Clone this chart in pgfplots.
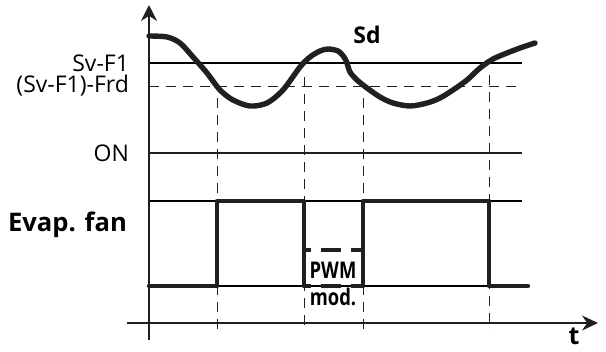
\documentclass[border=0pt]{standalone}
\usepackage{pgfplots}
\pgfplotsset{compat=1.18}
\usetikzlibrary{arrows.meta}
\usepackage{fontspec}
\setmainfont{Open Sans}
\definecolor{ink}{HTML}{231F20}
\definecolor{thin}{HTML}{8A8A8A}

\begin{document}
\begin{tikzpicture}
    \begin{axis}[
            hide axis,
            scale only axis,
            width=303pt,
            height=173.5pt,
            xmin=0, xmax=606,
            ymin=0, ymax=347,
            clip=false,
            every node/.append style={inner sep=0pt, text=ink},
        ]
        % frame of the picture (pixel units)
        \addplot[draw=none] coordinates {(0,0) (606,347)};

        % reference levels
        \addplot[thin, line width=0.55pt] coordinates {(149,284) (522,284)};
        \addplot[ink, line width=0.5pt, dash pattern=on 5pt off 3.5pt] coordinates {(149,261) (522,261)};
        \addplot[ink, line width=0.6pt] coordinates {(149,194) (522,194)};
        \addplot[thin, line width=0.55pt] coordinates {(149,146) (522,146)};
        \addplot[thin, line width=0.55pt] coordinates {(149,61) (522,61)};

        % switching instants
        \addplot[ink, line width=0.5pt, dash pattern=on 5pt off 3.5pt] coordinates {(217,249) (217,17)};
        \addplot[ink, line width=0.5pt, dash pattern=on 5pt off 3.5pt] coordinates {(304,270) (304,17)};
        \addplot[ink, line width=0.5pt, dash pattern=on 5pt off 3.5pt] coordinates {(363,249) (363,17)};
        \addplot[ink, line width=0.5pt, dash pattern=on 5pt off 3.5pt] coordinates {(489,272) (489,17)};

        % axes
        \addplot[ink, line width=0.8pt, -{Stealth[length=8pt,width=7.5pt]}] coordinates {(127,24) (598,24)};
        \addplot[ink, line width=0.8pt, -{Stealth[length=8pt,width=8pt]}] coordinates {(149,7) (149,342)};

        % Sd probe curve
        \addplot[ink, line width=2.7pt, smooth, tension=0.5, line cap=round] coordinates {
            (149,311) (167,310) (180,304) (193,290) (207,274) (220,257)
            (233,247) (250,241) (267,244) (283,257) (300,280) (310,290)
            (320,296) (328,298) (338,296) (344,290) (347,284) (350,275)
            (357,267) (367,259) (380,250) (393,244) (410,241) (427,244)
            (440,249) (453,257) (467,267) (480,279) (493,288) (507,294)
            (520,299) (535,304)
        };

        % evaporator fan output
        \addplot[ink, line width=2.2pt, line join=round, line cap=round] coordinates {
            (149,61) (217,61) (217,146) (304,146) (304,61)
        };
        \addplot[ink, line width=2.2pt, line join=round, line cap=round] coordinates {
            (363,61) (363,146) (489,146) (489,61) (528,61)
        };
        \addplot[ink, line width=2.2pt, dash pattern=on 10pt off 5pt, dash phase=6.5pt] coordinates {(304,97) (363,97)};
        \addplot[ink, line width=2.2pt, dash pattern=on 10pt off 5pt, dash phase=6.5pt] coordinates {(304,61) (363,61)};

        % labels
        \node[anchor=east, font=\fontsize{11.5}{13}\selectfont] at (axis cs:136,284) {Sv-F1};
        \node[anchor=east, font=\fontsize{11.5}{13}\selectfont] at (axis cs:136,261) {(Sv-F1)-Frd};
        \node[anchor=east, font=\fontsize{11.5}{13}\selectfont] at (axis cs:136,194) {ON};
        \node[anchor=east, font=\fontsize{12.8}{15}\selectfont\bfseries] at (axis cs:134,122) {Evap. fan};
        \node[font=\fontsize{11.5}{14}\selectfont\bfseries] at (axis cs:367,312) {Sd};
        \node[font=\fontsize{11.5}{14}\selectfont\bfseries] at (axis cs:333,77) {\scalebox{0.8}[1]{PWM}};
        \node[font=\fontsize{11.5}{14}\selectfont\bfseries] at (axis cs:333,50) {\scalebox{0.8}[1]{mod.}};
        \node[font=\fontsize{12.5}{15}\selectfont\bfseries] at (axis cs:574,11) {t};
    \end{axis}
\end{tikzpicture}
\end{document}
